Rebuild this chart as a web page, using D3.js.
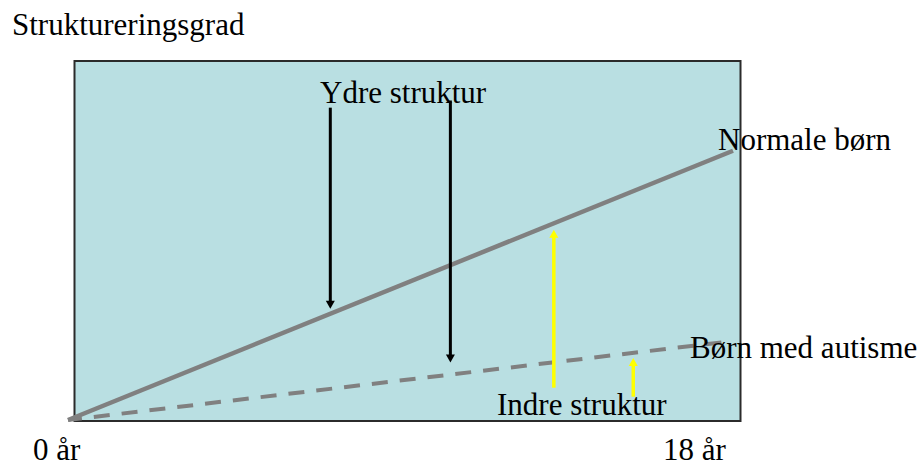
<!DOCTYPE html>
<html><head><meta charset="utf-8">
<script src="https://cdn.jsdelivr.net/npm/d3@7"></script>
</head>
<body style="margin:0;background:#fff"><svg id="c" width="919" height="466" style="display:block;font-family:'Liberation Serif',serif"></svg>
<script>
// ---- data ----
const ages = [0, 18];                       // år
const ageLabels = ["0 år", "18 år"];
const normalValues = [0, 75];               // Normale børn
const autismValues = [0, 22];               // Børn med autisme
// Ydre struktur (black, pointing down): age, from, to
const outerAges = [7.1, 10.35];
const outerFrom = [87, 89];
const outerTo = [31, 16];
// Indre struktur (yellow, pointing up)
const innerAges = [13.15, 15.3];
const innerFrom = [9, 6.5];
const innerTo = [53, 17.3];

const svg = d3.select("#c");
const x = d3.scaleLinear().domain([0, 18]).range([68, 733]);
const y = d3.scaleLinear().domain([0, 100]).range([420, 61]);

// panel
svg.append("rect").attr("x", 74.5).attr("y", 61).attr("width", 666).attr("height", 360)
  .attr("fill", "#B9DFE2").attr("stroke", "#2b2b2b").attr("stroke-width", 2);

const line = d3.line().x(d => x(d[0])).y(d => y(d[1]));
const normal = ages.map((a, i) => [a, normalValues[i]]);
const autism = ages.map((a, i) => [a, autismValues[i]]);

svg.append("path").attr("d", line(autism)).attr("fill", "none")
  .attr("stroke", "#808080").attr("stroke-width", 4).attr("stroke-dasharray", "16 12")
  .attr("stroke-dashoffset", -26);
svg.append("path").attr("d", line(normal)).attr("fill", "none")
  .attr("stroke", "#808080").attr("stroke-width", 4.5);

function arrow(age, from, to, color, w) {
  const xx = x(age), y0 = y(from), y1 = y(to);
  const dir = y1 > y0 ? 1 : -1;
  const hl = 8, hw = 4.5;
  svg.append("line").attr("x1", xx).attr("x2", xx).attr("y1", y0).attr("y2", y1 - dir * hl * 0.6)
    .attr("stroke", color).attr("stroke-width", w);
  svg.append("path")
    .attr("d", `M${xx},${y1}L${xx - hw},${y1 - dir * hl}L${xx + hw},${y1 - dir * hl}Z`)
    .attr("fill", color);
}
outerAges.forEach((a, i) => arrow(a, outerFrom[i], outerTo[i], "#000", 3));
innerAges.forEach((a, i) => arrow(a, innerFrom[i], innerTo[i], "#FFFF00", 3.5));

// texts
const texts = [
  {t: "Struktureringsgrad", x: 12, y: 35},
  {t: "Ydre struktur", x: 320, y: 103},
  {t: "Normale børn", x: 718, y: 150},
  {t: "Børn med autisme", x: 690, y: 358},
  {t: "Indre struktur", x: 497, y: 415},
  {t: ageLabels[0], x: 33, y: 460},
  {t: ageLabels[1], x: 663, y: 460}
];
svg.selectAll("text").data(texts).join("text")
  .attr("x", d => d.x).attr("y", d => d.y)
  .attr("font-family", "Liberation Serif")
  .attr("style", "font-family:'Liberation Serif',serif !important;font-size:31px")
  .attr("fill", "#000")
  .text(d => d.t);
</script></body></html>
